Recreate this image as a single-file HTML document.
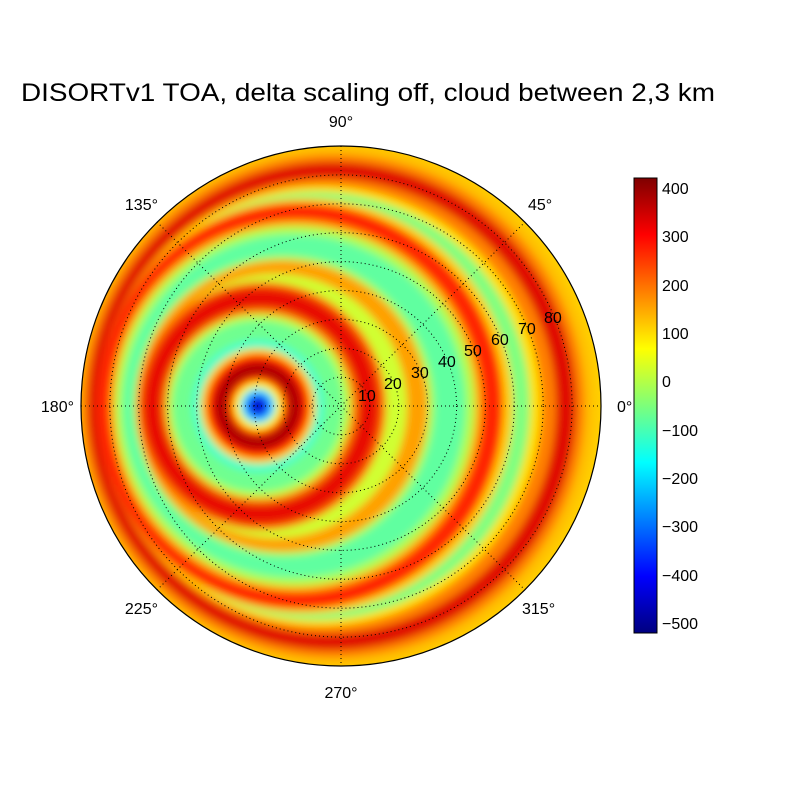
<!DOCTYPE html>
<html><head><style>body{margin:0;background:#fff}svg{display:block}</style></head><body>
<svg width="812" height="812" xmlns="http://www.w3.org/2000/svg" font-family="Liberation Sans, sans-serif">
<defs>
<clipPath id="c"><circle cx="341" cy="406" r="260"/></clipPath>
<filter id="b" x="-10%" y="-10%" width="120%" height="120%"><feGaussianBlur stdDeviation="4"/></filter>
<linearGradient id="jet" x1="0" y1="1" x2="0" y2="0">
<stop offset="0" stop-color="#00007f"/><stop offset="0.125" stop-color="#0000ff"/><stop offset="0.375" stop-color="#00ffff"/><stop offset="0.5" stop-color="#7dff7a"/><stop offset="0.625" stop-color="#ffff00"/><stop offset="0.875" stop-color="#ff0000"/><stop offset="1" stop-color="#7f0000"/>
</linearGradient>
</defs>
<rect width="812" height="812" fill="#fff"/>
<text x="21" y="101" font-size="25" textLength="694" lengthAdjust="spacingAndGlyphs">DISORTv1 TOA, delta scaling off, cloud between 2,3 km</text>
<g clip-path="url(#c)">
<rect x="70" y="140" width="540" height="540" fill="#ffd000"/>
<g filter="url(#b)">
<circle cx="333" cy="406" r="262" fill="#ffc000"/>
<circle cx="333" cy="406" r="252" fill="#ff8000"/>
<circle cx="332" cy="406" r="244" fill="#e01000"/>
<circle cx="328" cy="406" r="228" fill="#ff8000"/>
<circle cx="321" cy="406" r="220" fill="#ffe000"/>
<circle cx="316" cy="406" r="214" fill="#80ff80"/>
<circle cx="305" cy="406" r="208" fill="#ffcc00"/>
<circle cx="300" cy="406" r="203" fill="#ff2800"/>
<circle cx="296" cy="406" r="186" fill="#ffb000"/>
<circle cx="295" cy="406" r="180" fill="#b0ff50"/>
<circle cx="294" cy="406" r="172" fill="#60ffa0"/>
<circle cx="284" cy="406" r="150" fill="#b0ff50"/>
<circle cx="282" cy="406" r="146" fill="#ffa000"/>
<circle cx="275" cy="406" r="132" fill="#d0ff30"/>
<circle cx="262" cy="406" r="124" fill="#ff6000"/>
<circle cx="261" cy="406" r="118" fill="#e81000"/>
<circle cx="260" cy="406" r="98" fill="#ff8000"/>
<circle cx="259" cy="406" r="92" fill="#c0ff40"/>
<circle cx="258" cy="406" r="86" fill="#70ff90"/>
<circle cx="258" cy="406" r="66" fill="#40ffd0"/>
<circle cx="258" cy="406" r="58" fill="#ffd000"/>
<circle cx="258" cy="406" r="52" fill="#ff2000"/>
<circle cx="258" cy="406" r="44" fill="#b00000"/>
<circle cx="258" cy="406" r="30" fill="#ff4000"/>
<circle cx="258" cy="406" r="24" fill="#ffff00"/>
<circle cx="258" cy="406" r="18" fill="#30e0ff"/>
<circle cx="258" cy="406" r="12" fill="#1040ff"/>
<circle cx="258" cy="406" r="6" fill="#0000c0"/>
</g>
</g>
<g fill="none" stroke="#000" stroke-width="1" stroke-dasharray="1,3">
<circle cx="341" cy="406" r="28.9"/><circle cx="341" cy="406" r="57.8"/><circle cx="341" cy="406" r="86.7"/><circle cx="341" cy="406" r="115.6"/><circle cx="341" cy="406" r="144.4"/><circle cx="341" cy="406" r="173.3"/><circle cx="341" cy="406" r="202.2"/><circle cx="341" cy="406" r="231.1"/>
<line x1="81" y1="406" x2="601" y2="406"/><line x1="341" y1="146" x2="341" y2="666"/>
<line x1="157" y1="222" x2="525" y2="590"/><line x1="157" y1="590" x2="525" y2="222"/>
</g>
<circle cx="341" cy="406" r="260" fill="none" stroke="#000" stroke-width="1.2"/>
<g font-size="16">
<text x="341" y="127" text-anchor="middle">90°</text>
<text x="341" y="698" text-anchor="middle">270°</text>
<text x="74" y="412" text-anchor="end">180°</text>
<text x="617" y="412">0°</text>
<text x="158" y="210" text-anchor="end">135°</text>
<text x="528" y="210">45°</text>
<text x="158" y="614" text-anchor="end">225°</text>
<text x="522" y="614">315°</text>
<text x="358" y="401">10</text><text x="384" y="389">20</text><text x="411" y="378">30</text><text x="438" y="367">40</text><text x="464" y="356">50</text><text x="491" y="345">60</text><text x="518" y="334">70</text><text x="544" y="323">80</text>
</g>
<rect x="634" y="178" width="23" height="455" fill="url(#jet)" stroke="#000"/>
<g font-size="16">
<text x="662" y="194">400</text><text x="662" y="242">300</text><text x="662" y="291">200</text><text x="662" y="339">100</text><text x="662" y="387">0</text><text x="662" y="436">−100</text><text x="662" y="484">−200</text><text x="662" y="532">−300</text><text x="662" y="581">−400</text><text x="662" y="629">−500</text>
</g>
</svg>
</body></html>
